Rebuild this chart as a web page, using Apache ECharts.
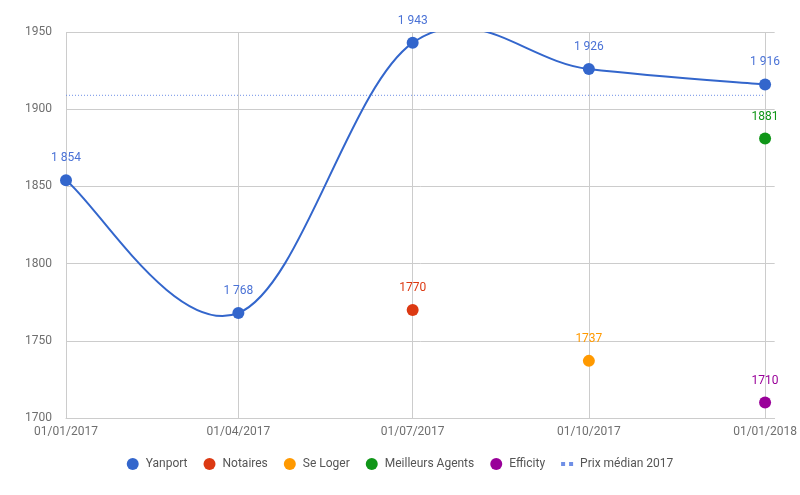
<!DOCTYPE html>
<html><head><meta charset="utf-8">
<script src="https://cdn.jsdelivr.net/npm/echarts@6/dist/echarts.min.js"></script>
<style>html,body{margin:0;padding:0;background:#fff}#c{width:800px;height:495px}</style>
</head><body><div id="c"></div>
<script>
const dates = ['2017-01-01','2017-04-01','2017-07-01','2017-10-01','2018-01-01'];
const yanport = [1854, 1768, 1943, 1926, 1916];
const notaires = [['2017-07-01', 1770]];
const seLoger = [['2017-10-01', 1737]];
const meilleursAgents = [['2018-01-01', 1881]];
const efficity = [['2018-01-01', 1710]];
const medianValue = 1909;
const yTicks = [1700, 1750, 1800, 1850, 1900, 1950];

const DAY = 86400000;
function ts(s){const p=s.split('-').map(Number);return Date.UTC(p[0],p[1]-1,p[2])/DAY;}
function pad(n){return (n<10?'0':'')+n;}
function fmtDate(v){const d=new Date(Math.round(v)*DAY);return pad(d.getUTCDate())+'/'+pad(d.getUTCMonth()+1)+'/'+d.getUTCFullYear();}
function fmtSpace(v){return String(v).replace(/\B(?=(\d{3})+(?!\d))/g,' ');}

const tickVals = dates.map(ts);
const font = 'Roboto';
const colors = ['#3366cc','#dc3912','#ff9900','#109618','#990099','#6f8fe6'];
const yanportData = dates.map((d,i)=>[ts(d), yanport[i]]);

function pointSeries(name, arr, color){
  return {name, type:'line', data: arr.map(d=>[ts(d[0]), d[1]]),
    symbol:'circle', symbolSize:12, itemStyle:{color},
    lineStyle:{width:0}, z:3,
    label:{show:true, position:'top', distance:10, color, fontFamily:font, fontSize:12}};
}

// Cardinal-spline curve through the Yanport points, in pixel space via the axes
function renderCurve(params, api){
  const i = params.dataIndex, n = yanportData.length;
  if (i >= n-1) return null;
  const P = j => api.coord(yanportData[Math.max(0, Math.min(n-1, j))]);
  const p0 = P(i-1), p1 = P(i), p2 = P(i+1), p3 = P(i+2);
  const t = 0.18;
  return {type:'bezierCurve',
    shape:{x1:p1[0], y1:p1[1], x2:p2[0], y2:p2[1],
      cpx1:p1[0]+(p2[0]-p0[0])*t, cpy1:p1[1]+(p2[1]-p0[1])*t,
      cpx2:p2[0]-(p3[0]-p1[0])*t, cpy2:p2[1]-(p3[1]-p1[1])*t},
    style:{stroke:colors[0], lineWidth:2, fill:null}};
}

const chart = echarts.init(document.getElementById('c'), null, {renderer:'canvas'});
chart.setOption({
  animation:false,
  color: colors,
  textStyle:{fontFamily:font},
  grid:{left:66, right:25, top:32, bottom:77, containLabel:false},
  xAxis:{type:'value', min: ts('2017-01-01'), max: ts('2018-01-06'),
    axisLine:{show:true, lineStyle:{color:'#cccccc'}},
    axisTick:{show:false, customValues: tickVals},
    axisLabel:{customValues: tickVals, formatter: fmtDate, color:'#6f6f6f', fontSize:12, fontFamily:font, margin:8, hideOverlap:false, showMaxLabel:true, showMinLabel:true},
    splitLine:{show:true, lineStyle:{color:'#cccccc'}}},
  yAxis:{type:'value', min:yTicks[0], max:yTicks[yTicks.length-1], interval:50,
    axisLine:{show:false}, axisTick:{show:false},
    axisLabel:{color:'#6f6f6f', fontSize:12, fontFamily:font, margin:14, formatter:v=>String(v)},
    splitLine:{lineStyle:{color:'#cccccc'}}},
  legend:{bottom:20, left:'center', itemWidth:12, itemHeight:12, itemGap:16,
    textStyle:{color:'#555', fontSize:12, fontFamily:font, padding:[0,0,0,2]},
    data:[
      {name:'Yanport', icon:'circle'},
      {name:'Notaires', icon:'circle'},
      {name:'Se Loger', icon:'circle'},
      {name:'Meilleurs Agents', icon:'circle'},
      {name:'Efficity', icon:'circle'},
      {name:'Prix médian 2017', icon:'path://M0,4h4v4h-4zM8,4h4v4h-4zM0,0h0.01v12h-0.01z'}
    ]},
  series:[
    {name:'Yanport', type:'line', data: yanportData,
      symbol:'circle', symbolSize:12, itemStyle:{color:colors[0]},
      lineStyle:{width:0, color:colors[0]}, z:4,
      label:{show:true, position:'top', distance:10, color:'#4a72d6', fontFamily:font, fontSize:12,
        formatter:p=>fmtSpace(p.value[1])}},
    {name:'Yanport courbe', type:'custom', data: yanportData, renderItem: renderCurve,
      clip:true, z:3, silent:true},
    pointSeries('Notaires', notaires, colors[1]),
    pointSeries('Se Loger', seLoger, colors[2]),
    pointSeries('Meilleurs Agents', meilleursAgents, colors[3]),
    pointSeries('Efficity', efficity, colors[4]),
    {name:'Prix médian 2017', type:'line', data:[[ts('2017-01-01'), medianValue],[ts('2018-01-01'), medianValue]],
      symbol:'none', itemStyle:{color:colors[5]}, lineStyle:{width:1, type:[1,2], color:colors[5]}, z:2}
  ]
});
</script></body></html>
